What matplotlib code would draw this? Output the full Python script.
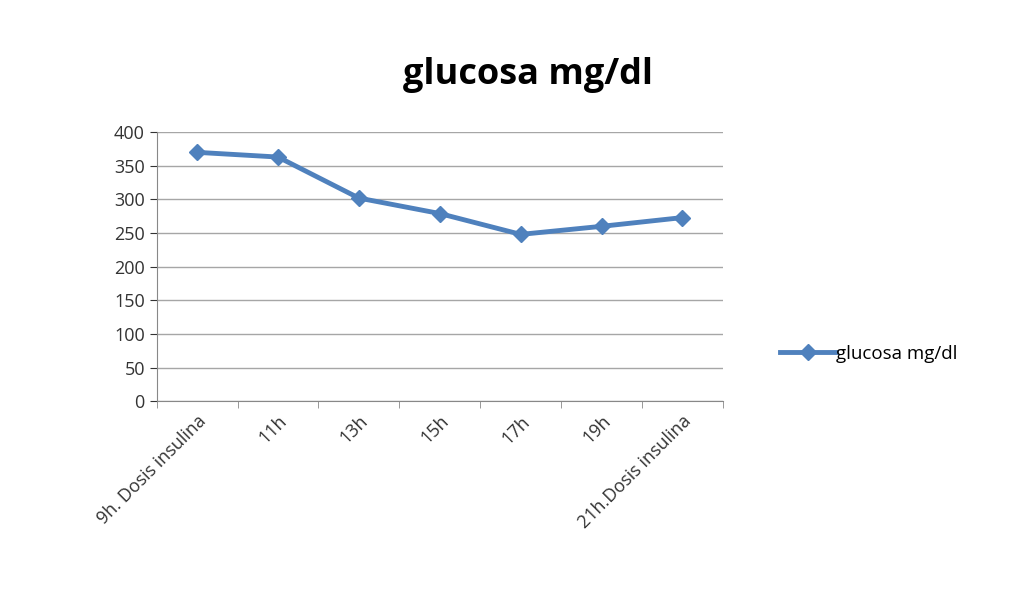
import matplotlib
matplotlib.use('Agg')
import matplotlib.pyplot as plt
import numpy as np

categories = ['9h. Dosis insulina', '11h', '13h', '15h', '17h', '19h', '21h.Dosis insulina']
glucosa = [370, 363, 302, 279, 248, 260, 273]

plt.rcParams['font.family'] = ['Open Sans', 'DejaVu Sans']
fig = plt.figure(figsize=(10.24, 5.9), dpi=100)
ax = fig.add_axes([0.153, 0.320, 0.553, 0.456])

x = np.arange(len(categories))
line, = ax.plot(x, glucosa, color='#4f81bd', lw=3.5, marker='D', ms=8, label='glucosa mg/dl')

ax.set_xlim(-0.5, len(categories) - 0.5)
ax.set_ylim(0, 400)
ax.set_yticks(range(0, 401, 50))
ax.yaxis.grid(True, color='#a6a6a6', lw=1)
ax.set_axisbelow(True)
ax.set_xticks(x)
ax.set_xticklabels(categories, rotation=45, ha='right', rotation_mode='anchor', fontsize=13, color='#333333')
ax.tick_params(axis='x', length=0, pad=8)
ax.set_xticks(np.arange(-0.5, len(categories)), minor=True)
ax.tick_params(axis='x', which='minor', length=5, color='#888888')
ax.tick_params(axis='y', labelsize=13, colors='#333333', length=5)
for s in ['top', 'right']:
    ax.spines[s].set_visible(False)
for s in ['left', 'bottom']:
    ax.spines[s].set_color('#888888')

fig.text(0.516, 0.873, 'glucosa mg/dl', ha='center', va='center', fontsize=26, fontweight='bold')
fig.legend(handles=[line], loc='center left', bbox_to_anchor=(0.745, 0.400), frameon=False, fontsize=13.5,
           handlelength=3, handletextpad=0.0)

fig.savefig('out.png', dpi=100)
